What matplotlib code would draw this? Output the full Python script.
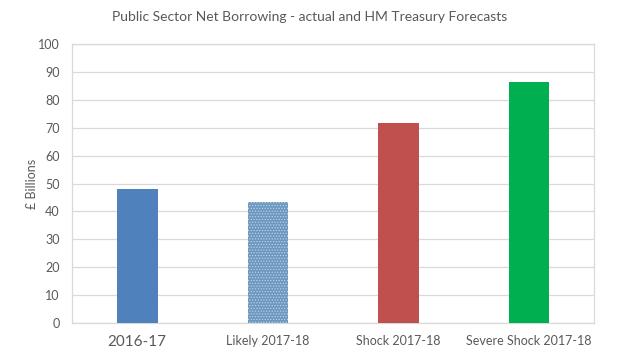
import numpy as np
import matplotlib
matplotlib.use("Agg")
import matplotlib.pyplot as plt

plt.rcParams['hatch.linewidth'] = 0.6
plt.rcParams['font.family'] = ['Lato', 'DejaVu Sans']

categories = ["2016-17", "Likely 2017-18", "Shock 2017-18", "Severe Shock 2017-18"]
values = [47.9, 43.5, 71.7, 86.5]
colors = ["#4f81bd", "#6b97c0", "#c0504d", "#00b050"]
yticks = [0, 10, 20, 30, 40, 50, 60, 70, 80, 90, 100]

grey = "#595959"

fig = plt.figure(figsize=(6.4, 3.62), dpi=100)
ax = fig.add_axes([0.1125, 0.108, 0.816, 0.770])

x = np.arange(len(categories))
bars = ax.bar(x, values, width=0.31, color=colors, zorder=3)
# likely bar has a fine dotted fill
bars[1].set_hatch("......")
bars[1].set_edgecolor("#bcd2e6")
bars[1].set_linewidth(0)

ax.set_xlim(-0.5, 3.5)
ax.set_ylim(0, 100)
ax.set_yticks(yticks)
ax.yaxis.grid(True, color="#d9d9d9", linewidth=0.9, zorder=0)
for s in ax.spines.values():
    s.set_color("#d9d9d9")
    s.set_linewidth(0.9)
ax.tick_params(axis="y", length=0, colors=grey, labelsize=9, pad=9)
ax.tick_params(axis="x", length=0, colors=grey, labelsize=9, pad=9)
ax.set_xticks(x)
ax.set_xticklabels(categories)
ticklabels = ax.get_xticklabels()
ticklabels[0].set_fontsize(11)
for t in ticklabels[1:]:
    t.set_fontsize(9)

ax.set_ylabel("£ Billions", color=grey, fontsize=9)
ax.yaxis.set_label_coords(-0.066, 0.5)
fig.text(0.484, 0.953, "Public Sector Net Borrowing - actual and HM Treasury Forecasts",
         ha="center", va="center", color=grey, fontsize=10)

fig.savefig("out.png", dpi=100)
